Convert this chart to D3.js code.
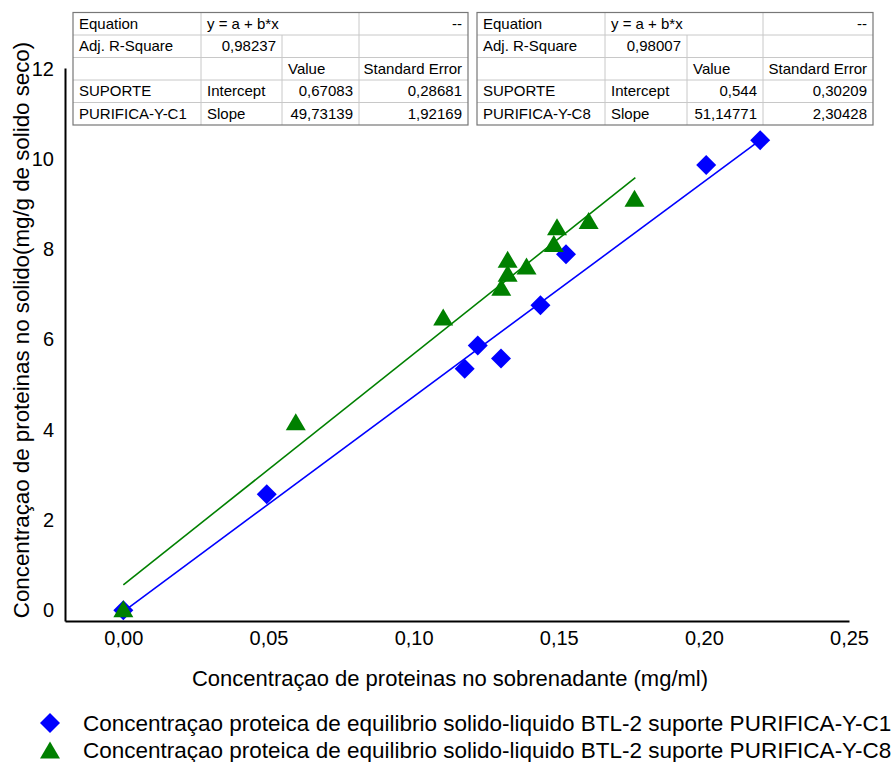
<!DOCTYPE html>
<html>
<head>
<meta charset="utf-8">
<script src="https://cdn.jsdelivr.net/npm/d3@7"></script>
<style>
  body { margin: 0; background: #fff; }
  svg { display: block; font-family: "Liberation Sans", Arial, sans-serif; }
</style>
</head>
<body>
<svg width="893" height="762"></svg>
<script>
// data
const c1X = [0, 0.0494, 0.1176, 0.1221, 0.1301, 0.1437, 0.1525, 0.2008, 0.2194];
const c1Y = [0, 2.57, 5.35, 5.87, 5.58, 6.76, 7.89, 9.87, 10.42];
const c8X = [0, 0.0594, 0.1102, 0.1302, 0.1324, 0.1324, 0.1389, 0.1483, 0.1494, 0.1603, 0.1761];
const c8Y = [0.03, 4.18, 6.50, 7.16, 7.47, 7.78, 7.63, 8.13, 8.50, 8.64, 9.13];

// fitted lines (end points)
const c1FitX = [0, 0.2194];
const c1FitY = [-0.03, 10.42];
const c8FitX = [0, 0.1764];
const c8FitY = [0.56, 9.59];

const xTicks = [0, 0.05, 0.10, 0.15, 0.20, 0.25];
const yTicks = [0, 2, 4, 6, 8, 10, 12];

const legendLabels = [
  "Concentraçao proteica de equilibrio solido-liquido BTL-2 suporte PURIFICA-Y-C1",
  "Concentraçao proteica de equilibrio solido-liquido BTL-2 suporte PURIFICA-Y-C8"
];

const tableC1 = [
  ["Equation", "y = a + b*x", "", "--"],
  ["Adj. R-Square", "0,98237", "", ""],
  ["", "", "Value", "Standard Error"],
  ["SUPORTE", "Intercept", "0,67083", "0,28681"],
  ["PURIFICA-Y-C1", "Slope", "49,73139", "1,92169"]
];
const tableC8 = [
  ["Equation", "y = a + b*x", "", "--"],
  ["Adj. R-Square", "0,98007", "", ""],
  ["", "", "Value", "Standard Error"],
  ["SUPORTE", "Intercept", "0,544", "0,30209"],
  ["PURIFICA-Y-C8", "Slope", "51,14771", "2,30428"]
];

const svg = d3.select("svg");
const blue = "#0000ff", green = "#008000";

// scales
const x = d3.scaleLinear().domain([-0.0201, 0.25]).range([65, 849]);
const y = d3.scaleLinear().domain([-0.24, 12.02]).range([621, 68]);

// markers
function diamond(cx, cy, r) {
  return `M${cx},${cy - r}L${cx + r},${cy}L${cx},${cy + r}L${cx - r},${cy}Z`;
}
function triangle(cx, cy, w, h) {
  return `M${cx},${cy - h / 2}L${cx + w / 2},${cy + h / 2}L${cx - w / 2},${cy + h / 2}Z`;
}

// axes (no tick marks, just labels)
const xAxis = svg.append("g")
    .attr("transform", `translate(0,${y.range()[0]})`)
    .call(d3.axisBottom(x).tickValues(xTicks).tickSize(0).tickPadding(10)
      .tickFormat(d => d3.format(".2f")(d).replace(".", ",")));
xAxis.select(".domain").attr("stroke", "#000").attr("stroke-width", 2);
xAxis.selectAll("text").attr("font-size", 20).attr("fill", "#000")
    .attr("font-family", "Liberation Sans, Arial, sans-serif");

const yAxis = svg.append("g")
    .attr("transform", `translate(${x.range()[0]},0)`)
    .call(d3.axisLeft(y).tickValues(yTicks).tickSize(0).tickPadding(11));
yAxis.select(".domain").attr("stroke", "#000").attr("stroke-width", 2);
yAxis.selectAll("text").attr("font-size", 20).attr("fill", "#000")
    .attr("font-family", "Liberation Sans, Arial, sans-serif");

// axis titles
svg.append("text")
    .attr("x", 450).attr("y", 686)
    .attr("text-anchor", "middle")
    .attr("font-size", 22)
    .text("Concentraçao de proteinas no sobrenadante (mg/ml)");

svg.append("text")
    .attr("transform", "translate(29,330) rotate(-90)")
    .attr("text-anchor", "middle")
    .attr("font-size", 22.3)
    .text("Concentraçao de proteinas no solido(mg/g de solido seco)");

// fit lines
const line = d3.line().x(d => x(d[0])).y(d => y(d[1]));
svg.append("path")
    .datum(d3.zip(c8FitX, c8FitY))
    .attr("d", line).attr("fill", "none")
    .attr("stroke", green).attr("stroke-width", 1.6);
svg.append("path")
    .datum(d3.zip(c1FitX, c1FitY))
    .attr("d", line).attr("fill", "none")
    .attr("stroke", blue).attr("stroke-width", 1.6);

// points
svg.append("g").selectAll("path")
    .data(d3.zip(c1X, c1Y))
    .join("path")
    .attr("d", d => diamond(x(d[0]), y(d[1]), 10))
    .attr("fill", blue);

svg.append("g").selectAll("path")
    .data(d3.zip(c8X, c8Y))
    .join("path")
    .attr("d", d => triangle(x(d[0]), y(d[1]), 20, 17))
    .attr("fill", green);

// result tables
function drawTable(rows, cols, top, rowH) {
  const g = svg.append("g");
  const left = cols[0], right = cols[cols.length - 1];
  const bottom = top + rowH * rows.length;
  g.append("rect")
      .attr("x", left).attr("y", top)
      .attr("width", right - left).attr("height", bottom - top)
      .attr("fill", "#fff");

  // horizontal grid
  for (let i = 1; i < rows.length; i++) {
    g.append("line")
        .attr("x1", left).attr("x2", right)
        .attr("y1", top + i * rowH).attr("y2", top + i * rowH)
        .attr("stroke", "#c8c8c8");
  }
  // vertical grid, first row spans cols 1-2
  rows.forEach((row, i) => {
    for (let c = 1; c < cols.length - 1; c++) {
      if (i === 0 && c === 2) continue;
      g.append("line")
          .attr("x1", cols[c]).attr("x2", cols[c])
          .attr("y1", top + i * rowH).attr("y2", top + (i + 1) * rowH)
          .attr("stroke", "#c8c8c8");
    }
  });
  g.append("rect")
      .attr("x", left).attr("y", top)
      .attr("width", right - left).attr("height", bottom - top)
      .attr("fill", "none").attr("stroke", "#777").attr("stroke-width", 1.2);

  rows.forEach((row, i) => {
    row.forEach((t, c) => {
      if (!t) return;
      const leftAlign = c === 0 || (i === 0 && c === 1) || (c === 1 && i > 2) || t === "Value";
      g.append("text")
          .attr("x", leftAlign ? cols[c] + 6 : cols[c + 1] - 6)
          .attr("y", top + i * rowH + 16)
          .attr("text-anchor", leftAlign ? "start" : "end")
          .attr("font-size", 15)
          .attr("fill", "#000")
          .text(t);
    });
  });
}

drawTable(tableC1, [73, 201, 282, 359, 468], 12.5, 22.5);
drawTable(tableC8, [477, 605, 687, 763, 873], 12.5, 22.5);

// legend
const legend = svg.append("g");
legend.append("path").attr("d", diamond(50, 723, 10)).attr("fill", blue);
legend.append("path").attr("d", triangle(50, 750, 20, 17)).attr("fill", green);
legend.selectAll("text")
    .data(legendLabels)
    .join("text")
    .attr("x", 83)
    .attr("y", (d, i) => 731 + i * 27)
    .attr("font-size", 22.5)
    .text(d => d);
</script>
</body>
</html>
